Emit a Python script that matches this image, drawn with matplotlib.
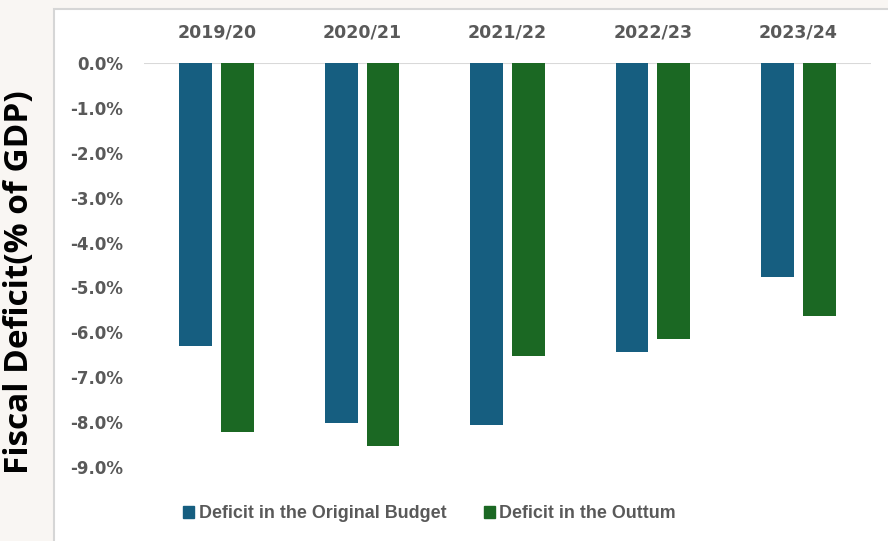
import matplotlib.pyplot as plt
from matplotlib.patches import Rectangle, Patch

years = ["2019/20", "2020/21", "2021/22", "2022/23", "2023/24"]
original_budget = [-6.30, -8.02, -8.07, -6.45, -4.76]
outturn = [-8.23, -8.54, -6.53, -6.16, -5.63]

ytick_values = [0, -1, -2, -3, -4, -5, -6, -7, -8, -9]
ytick_labels = ["0.0%", "-1.0%", "-2.0%", "-3.0%", "-4.0%",
                "-5.0%", "-6.0%", "-7.0%", "-8.0%", "-9.0%"]

blue = "#165e80"
green = "#1b6823"
grey_text = "#595959"

fig = plt.figure(figsize=(8.88, 5.41), dpi=100)
fig.patch.set_facecolor("#f9f6f3")

# white chart panel with a light border, kept behind the axes
panel = Rectangle((54 / 888, -0.05), 1.0, 1.05 - 9 / 541,
                  transform=fig.transFigure, facecolor="white",
                  edgecolor="#d6d6d6", linewidth=1.5, zorder=-5)
fig.patches.append(panel)

ax = fig.add_axes([144 / 888, 1 - 466.7 / 541, 727 / 888, 403.4 / 541])
ax.set_facecolor("none")
ax.set_zorder(2)

x = range(len(years))
w = 0.225
ax.bar([i - 0.144 for i in x], original_budget, width=w, color=blue,
       label="Deficit in the Original Budget", zorder=2)
ax.bar([i + 0.144 for i in x], outturn, width=w, color=green,
       label="Deficit in the Outtum", zorder=2)

ax.axhline(0, color="#d9d9d9", linewidth=1.5, zorder=1)

ax.set_xlim(-0.5, len(years) - 0.5)
ax.set_ylim(-9.0, 0)

ax.set_xticks(list(x))
ax.set_xticklabels(years, fontsize=12.5, fontweight="bold",
                   color=grey_text, family="DejaVu Sans")
ax.xaxis.set_ticks_position("top")
ax.tick_params(axis="x", length=0, pad=16)

ax.set_yticks(ytick_values)
ax.set_yticklabels(ytick_labels, fontsize=12, fontweight="bold",
                   color=grey_text, family="DejaVu Sans")
ax.tick_params(axis="y", length=0, pad=15)

for s in ax.spines.values():
    s.set_visible(False)

fig.text(20 / 888, 1 - 282 / 541, "Fiscal Deficit(% of GDP)",
         rotation=90, ha="center", va="center", fontsize=24,
         fontweight="bold", family="Open Sans", color="black")

handles = [Patch(color=blue), Patch(color=green)]
fig.legend(handles, ["Deficit in the Original Budget", "Deficit in the Outtum"],
           loc="center left", bbox_to_anchor=(183 / 888, 1 - 514 / 541),
           ncol=2, frameon=False, borderpad=0, borderaxespad=0,
           handlelength=0.62, handleheight=0.62, handletextpad=0.25,
           columnspacing=2.1,
           prop={"family": "Liberation Sans", "weight": "bold", "size": 12.9},
           labelcolor=grey_text)

plt.savefig("out.png", dpi=100, facecolor=fig.get_facecolor())
